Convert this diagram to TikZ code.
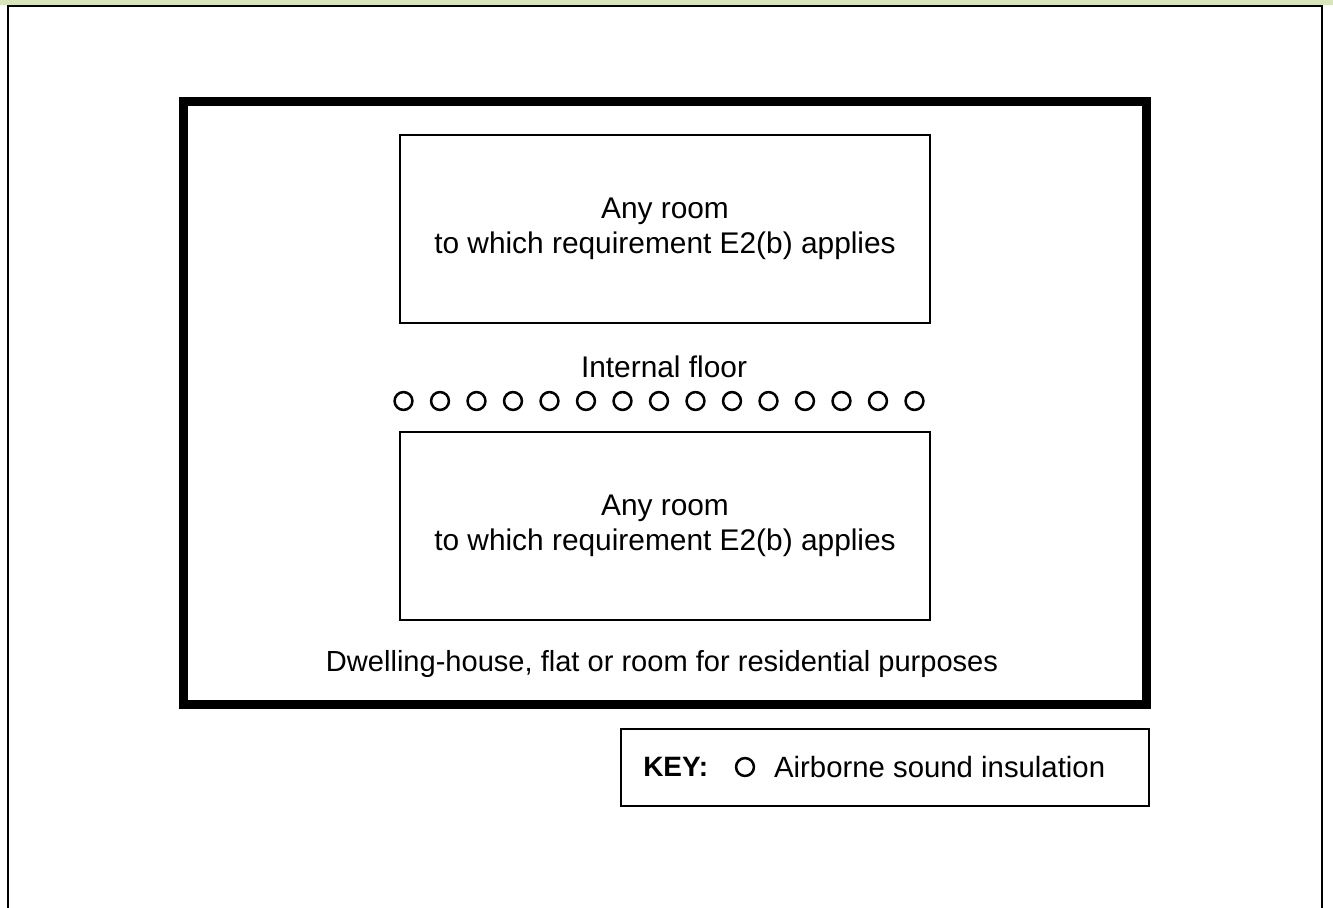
\documentclass[tikz,border=0pt]{standalone}
\usepackage{fontspec}
\setmainfont{Liberation Sans}
\usepackage{tikz}
\usetikzlibrary{positioning}
\definecolor{topband}{HTML}{D8E4BC}
\tikzset{
    wall/.style={rectangle, draw, line width=6.75pt, minimum width=721.9pt, minimum height=452.6pt},
    room/.style={rectangle, draw, line width=1.5pt, minimum width=397.5pt, minimum height=141pt, align=center},
    insul/.style={circle, draw, line width=1.9pt, minimum size=13.4pt, inner sep=0pt},
    keybox/.style={rectangle, draw, line width=1.5pt, minimum width=396pt, minimum height=57.75pt},
    label/.style={inner sep=0pt, align=center}
}

\begin{document}
\begin{tikzpicture}[x=0.75pt, y=-0.75pt, font=\fontsize{22.4}{26.5}\selectfont]
\useasboundingbox (0,0) rectangle (1333,907);

% Page frame
\fill[topband] (0,0) rectangle (1333,5);
\draw[line width=1.8pt] (8,910) -- (8,6) -- (1322,6) -- (1322,910);

% Dwelling boundary
\node[wall] at (664.75,402.75) (dwelling) {};
\node[label, font=\fontsize{21.8}{26}\selectfont] at (662,664) (dwtext) {Dwelling-house, flat or room for residential purposes};

% Rooms
\node[room] at (665,229) (upper) {Any room\\to which requirement E2(b) applies};
\node[room] at (665,526) (lower) {Any room\\to which requirement E2(b) applies};

% Internal floor
\node[label] at (664,367) (floor) {Internal floor};
\foreach \i in {0,...,14}
    \node[insul] at ({403.5+36.5*\i},401) (c\i) {};

% Key
\node[keybox] at (885,767.5) (key) {};
\node[label, font=\fontsize{21}{25}\selectfont\bfseries, anchor=west] at (643,767) (keyword) {KEY:};
\node[insul] at (745,767) (keymark) {};
\node[label, font=\fontsize{22}{26}\selectfont, right=14pt of keymark] (keytext) {Airborne sound insulation};

\end{tikzpicture}
\end{document}
